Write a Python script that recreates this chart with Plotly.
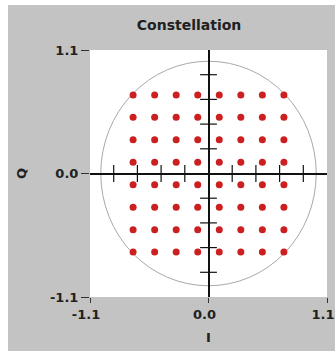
import itertools
import plotly.graph_objects as go

# 64-QAM constellation levels (I and Q)
i_levels = [-0.7, -0.5, -0.3, -0.1, 0.1, 0.3, 0.5, 0.7]
q_levels = [-0.7, -0.5, -0.3, -0.1, 0.1, 0.3, 0.5, 0.7]

# minor tick marks drawn on the crosshair
cross_ticks = [-0.88, -0.66, -0.44, -0.22, 0.22, 0.44, 0.66, 0.88]

axis_ticks = [-1.1, 0.0, 1.1]
axis_labels = ["-1.1", "0.0", "1.1"]
unit_radius = 1.0

pts = list(itertools.product(i_levels, q_levels))

fig = go.Figure()

# crosshair tick marks
fig.add_trace(go.Scatter(
    x=cross_ticks, y=[0] * len(cross_ticks), mode="markers",
    marker=dict(symbol="line-ns-open", size=12, color="#111", line=dict(color="#111", width=1.2)),
    hoverinfo="skip", showlegend=False,
))
fig.add_trace(go.Scatter(
    x=[0] * len(cross_ticks), y=cross_ticks, mode="markers",
    marker=dict(symbol="line-ew-open", size=12, color="#111", line=dict(color="#111", width=1.2)),
    hoverinfo="skip", showlegend=False,
))

# symbols
fig.add_trace(go.Scatter(
    x=[p[0] for p in pts], y=[p[1] for p in pts], mode="markers",
    marker=dict(color="#cc1f1f", size=7),
    showlegend=False,
))

fig.add_shape(type="circle", xref="x", yref="y",
              x0=-unit_radius, y0=-unit_radius, x1=unit_radius, y1=unit_radius,
              line=dict(color="#a8a8a8", width=1), layer="below")

tickfont = dict(family="DejaVu Sans", size=13, color="#202020", weight="bold")

fig.update_xaxes(
    range=[-1.1, 1.1], tickvals=axis_ticks, ticktext=axis_labels,
    ticks="outside", ticklen=5, tickcolor="#333", tickfont=tickfont,
    ticklabeloverflow="allow", ticklabelshift=-4,
    showgrid=False, zeroline=True, zerolinecolor="#111", zerolinewidth=1.5,
    showline=False, automargin=False,
    title=dict(text="I", font=tickfont, standoff=12),
)
fig.update_yaxes(
    range=[-1.1, 1.1], tickvals=axis_ticks, ticktext=axis_labels,
    ticks="outside", ticklen=8, tickcolor="#333", tickfont=tickfont,
    showgrid=False, zeroline=True, zerolinecolor="#111", zerolinewidth=1.5,
    showline=False, automargin=False,
    title=dict(text="Q", font=tickfont, standoff=20),
)

# page has a thin white border at left/top, as in the reference
fig.update_layout(
    width=327, height=346,
    margin=dict(l=82, r=8, t=45, b=54),
    paper_bgcolor="#c3c3c3", plot_bgcolor="white",
    title=dict(text="Constellation", x=0.418, xref="paper", xanchor="center",
               y=0.943, yanchor="middle",
               font=dict(family="DejaVu Sans", size=14, color="#202020", weight="bold")),
)

fig.write_html("out.html", config={"displayModeBar": False},
               post_script="document.body.style.margin='5px 0 0 8px';"
                           "document.body.style.overflow='hidden';")
